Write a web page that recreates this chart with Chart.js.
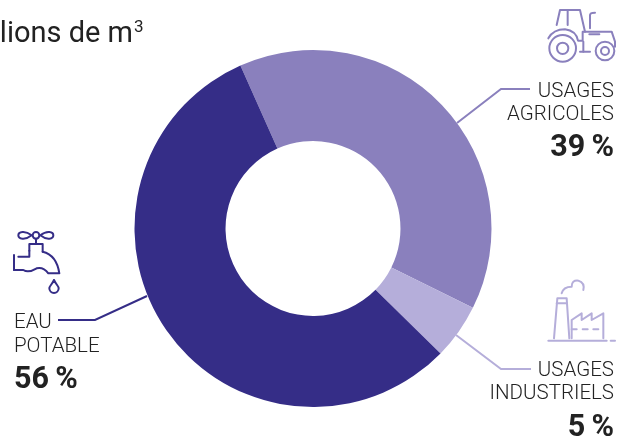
<!DOCTYPE html>
<html><head><meta charset="utf-8">
<style>html,body{margin:0;padding:0;background:#fff}canvas{display:block}</style>
<script src="https://cdn.jsdelivr.net/npm/chart.js@4"></script></head>
<body><canvas id="c" width="620" height="441"></canvas>
<script>
const categories = ["USAGES AGRICOLES", "USAGES INDUSTRIELS", "EAU POTABLE"];
const values = [39, 5, 56];
const colors = ["#8A80BD", "#B5AEDA", "#352D87"];
const titleText = "millions de m";
const titleExponent = "3";

const icon = (ctx, ox, oy, col, paths) => {
  ctx.save(); ctx.translate(ox, oy); ctx.scale(1/3, 1/3);
  ctx.strokeStyle = col; ctx.lineWidth = 6; ctx.lineCap = "round"; ctx.lineJoin = "round";
  paths.forEach(p => ctx.stroke(new Path2D(p)));
  ctx.restore();
};
const circ = (x, y, r) => `M${x+r},${y}A${r},${r} 0 1 0 ${x-r},${y}A${r},${r} 0 1 0 ${x+r},${y}`;
const decor = {
  id: "decor",
  afterDraw(chart) {
    const ctx = chart.ctx;
    const line = (pts, col) => {
      ctx.save(); ctx.strokeStyle = col; ctx.lineWidth = 2; ctx.beginPath();
      pts.forEach((p, i) => i ? ctx.lineTo(p[0], p[1]) : ctx.moveTo(p[0], p[1]));
      ctx.stroke(); ctx.restore();
    };
    line([[457,123],[501,89],[530,89]], colors[0]);
    line([[456,335],[501,369],[531,369]], colors[1]);
    line([[147,296],[95,320],[58,320]], colors[2]);

    const text = (s, x, y, align, font) => {
      ctx.save(); ctx.fillStyle = "#222"; ctx.textAlign = align; ctx.textBaseline = "alphabetic";
      ctx.font = font; ctx.fillText(s, x, y); ctx.restore();
    };
    const reg = '300 20.5px Roboto', bold = '700 30.5px Roboto';
    const pct = v => v + "\u2009%";
    text(titleText, 133, 41.5, "right", '400 29px Roboto');
    text(titleExponent, 134, 32, "left", '400 17px Roboto');
    text("USAGES", 614, 97, "right", reg);
    text("AGRICOLES", 614, 120, "right", reg);
    text(pct(values[0]), 614, 156, "right", bold);
    text("USAGES", 614, 376, "right", reg);
    text("INDUSTRIELS", 614, 399, "right", reg);
    text(pct(values[1]), 614, 436, "right", bold);
    text("EAU", 14, 328, "left", reg);
    text("POTABLE", 14, 352, "left", reg);
    text(pct(values[2]), 14, 388, "left", bold);

    icon(ctx, 440, 0, colors[0], [
      "M350,75L360,30H420L435,95", "M383,30V75", "M450,85V45Q450,38 465,38",
      "M325,115Q340,88 375,88Q408,92 414,122H428V95H515L525,125V140",
      circ(368,145,40), circ(368,145,17), circ(495,153,28), circ(495,153,12),
      "M420,155H450", "M430,125V155", "M448,103H478"
    ]);
    icon(ctx, 0, 220, colors[2], [
      "M95,46C75,30 55,35 55,46C55,57 75,62 95,46", "M121,46C141,30 160,35 160,46C160,57 141,62 121,46",
      circ(108,46,10), "M108,56V72", "M88,92V72H128V95", "M55,110H88V92",
      "M128,95Q170,105 178,160H145Q130,140 110,145Q85,160 70,150H42", "M42,105V150",
      "M162,180C155,195 148,198 148,205A14,14 0 0 0 176,205C176,198 169,195 162,180"
    ]);
    icon(ctx, 440, 270, colors[1], [
      "M342,205L352,85H380L388,205", "M350,100H380",
      "M365,70Q370,50 395,50Q395,30 415,32Q435,38 430,60",
      "M395,205V150L425,130V150L455,130V150L490,130V205",
      "M395,178H410", "M428,178H443", "M460,178H475",
      "M325,212H500", "M512,212H525"
    ]);
  }
};
new Chart(document.getElementById("c"), {
  type: "doughnut",
  data: { labels: categories, datasets: [{ data: values, backgroundColor: colors, borderWidth: 0 }] },
  options: {
    responsive: false, animation: false, rotation: -24, cutout: "49%",
    layout: { padding: { left: 134, right: 128, top: 50, bottom: 34 } },
    plugins: { legend: { display: false }, tooltip: { enabled: false } }
  },
  plugins: [decor]
});
</script></body></html>
